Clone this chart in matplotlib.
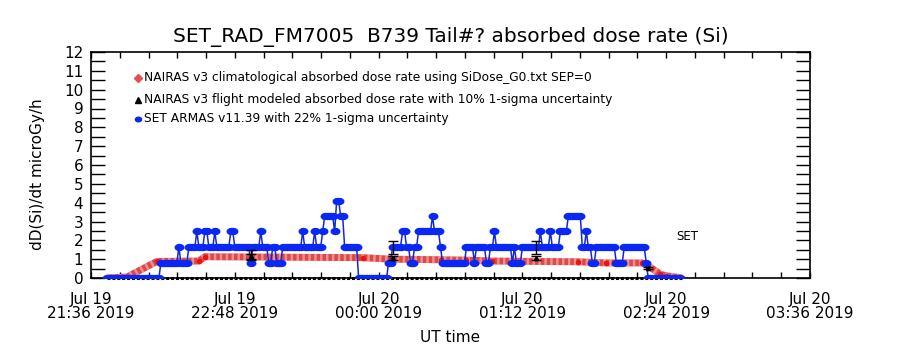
import matplotlib
matplotlib.use("Agg")
import matplotlib.pyplot as plt
from matplotlib.path import Path
import numpy as np

# ---- data (x in minutes after 2019-07-19 21:36 UT) ----
x_ticks = [0, 72, 144, 216, 288, 360]
x_ticklabels = ["Jul 19\n21:36 2019", "Jul 19\n22:48 2019", "Jul 20\n00:00 2019",
                "Jul 20\n01:12 2019", "Jul 20\n02:24 2019", "Jul 20\n03:36 2019"]
y_ticks = list(range(0, 13))

# NAIRAS v3 climatological absorbed dose rate
nairas_t = [8, 18, 33, 54, 57, 136, 150, 175, 188, 201, 244, 258, 276, 279, 285, 288, 296]
nairas_v = [0.0, 0.05, 0.88, 0.9, 1.13, 1.08, 1.0, 0.97, 0.95, 0.9, 0.86, 0.8, 0.8, 0.65, 0.2, 0.12, 0.0]

# SET ARMAS dose rate: quantised levels, given as runs of one-minute samples
set_start = 8
set_levels = [0.0, 0.82, 1.64, 2.47, 3.29, 4.11]
set_level_idx = [0, 1, 2, 1, 2, 3, 2, 3, 2, 3, 2, 3, 2, 1, 2, 3, 2, 1, 2, 1, 2, 3, 2, 3, 2, 3,
                 4, 3, 5, 4, 2, 0, 1, 2, 3, 2, 1, 2, 3, 4, 3, 2, 1, 2, 1, 2, 1, 2, 3, 2, 1, 2,
                 1, 2, 3, 2, 3, 2, 3, 4, 2, 3, 2, 1, 2, 1, 2, 1, 0]
set_run_len = [27, 9, 1, 4, 4, 1, 3, 2, 3, 1, 7, 2, 8, 1, 4, 1, 3, 2, 2, 3, 10, 1, 5, 1, 3, 1,
               5, 1, 2, 2, 7, 15, 2, 5, 2, 2, 2, 2, 7, 1, 3, 1, 12, 4, 1, 5, 2, 2, 1, 8, 1, 1,
               3, 9, 1, 4, 1, 4, 4, 7, 2, 1, 2, 2, 10, 4, 11, 1, 17]

# NAIRAS v3 flight-modeled values (10% sigma) and SET values with 22% sigma at the error-bar times
err_t = [80, 151, 223, 279]
flight_v = [1.15, 1.08, 1.08, 0.55]
set_err_v = [1.2, 1.62, 1.62, 0.55]
flight_zero_span = [8, 296]

# ---- figure ----
plt.rcParams["font.family"] = ["DejaVu Sans"]
fig = plt.figure(figsize=(9, 3.5), dpi=100)
ax = fig.add_axes([91 / 900, 1 - 278 / 350, 719 / 900, 226 / 350])

# wide oval symbol like the IDL user symbol
ang = np.linspace(0, 2 * np.pi, 17)
oval = Path(np.column_stack([1.35 * np.cos(ang), np.sin(ang)]))

# flight modeled series at zero along the bottom
ax.plot(flight_zero_span, [0, 0], color="black", lw=2.2, ls=(0, (1, 0.6)), zorder=2, clip_on=False)

# NAIRAS climatological band
ax.plot(nairas_t, nairas_v, color="#e04848", lw=5, zorder=3, solid_capstyle="butt")
ax.plot(nairas_t, nairas_v, color="white", lw=5, ls=(0, (0.35, 0.5)), alpha=0.4, zorder=3.1)
ax.plot(nairas_t, nairas_v, ls="none", marker="o", ms=3.0, color="#ee1111", zorder=3.2)

# SET ARMAS series
set_vals = np.repeat([set_levels[i] for i in set_level_idx], set_run_len)
set_t = set_start + np.arange(len(set_vals))
ax.plot(set_t, set_vals, color="#1428d0", lw=1.1, zorder=4)
ax.plot(set_t, set_vals, ls="none", marker=oval, ms=7.2, color="#0a28f5", mec="#0a28f5",
        mew=0, zorder=5)

# error bars
ax.errorbar(err_t[:3], set_err_v[:3], yerr=[0.22 * v for v in set_err_v[:3]], fmt="none",
            ecolor="black", elinewidth=1, capsize=3.5, capthick=1, zorder=6)
ax.errorbar(err_t, flight_v, yerr=[0.10 * v for v in flight_v], fmt="none",
            ecolor="black", elinewidth=1, capsize=3.5, capthick=1, zorder=6)
ax.plot(err_t, flight_v, ls="none", marker="^", ms=3, mfc="none", mec="black", zorder=6)

ax.text(298.5, 2.18, "SET", fontsize=8.5, ha="center", va="center")

ax.set_xlim(0, 360)
ax.set_ylim(0, 12)
ax.set_xticks(x_ticks)
ax.set_xticklabels(x_ticklabels, fontsize=11, linespacing=0.95)
ax.set_xticks(np.arange(0, 360.1, 14.4), minor=True)
ax.set_yticks(y_ticks)
ax.set_yticklabels([str(v) for v in y_ticks], fontsize=11)
ax.set_yticks(np.arange(0, 12.01, 0.5), minor=True)
ax.tick_params(axis="y", which="both", direction="in", length=10, width=1, left=True, right=True, pad=5.5)
ax.tick_params(axis="x", which="both", direction="in", length=4, width=1, top=True, bottom=True, pad=10)
for s in ax.spines.values():
    s.set_linewidth(1.2)

ax.set_xlabel("UT time", fontsize=11, labelpad=6)
ax.set_ylabel("dD(Si)/dt microGy/h", fontsize=11)
ax.yaxis.set_label_coords(-0.064, 0.46)
ax.set_title("SET_RAD_FM7005  B739 Tail#? absorbed dose rate (Si)", fontsize=14.5, pad=7)

# legend (drawn by hand, IDL-style)
leg = [("NAIRAS v3 climatological absorbed dose rate using SiDose_G0.txt SEP=0", "D", "#e05050", 0.885),
       ("NAIRAS v3 flight modeled absorbed dose rate with 10% 1-sigma uncertainty", "^", "black", 0.788),
       ("SET ARMAS v11.39 with 22% 1-sigma uncertainty", oval, "#0a28f5", 0.704)]
for label, mk, col, yy in leg:
    ax.plot([0.066], [yy], transform=ax.transAxes, marker=mk, ms=4.5, color=col, ls="none",
            clip_on=False, zorder=7)
    ax.text(0.074, yy, label, transform=ax.transAxes, fontsize=8.8, va="center", ha="left")

fig.savefig("out.png", dpi=100)
